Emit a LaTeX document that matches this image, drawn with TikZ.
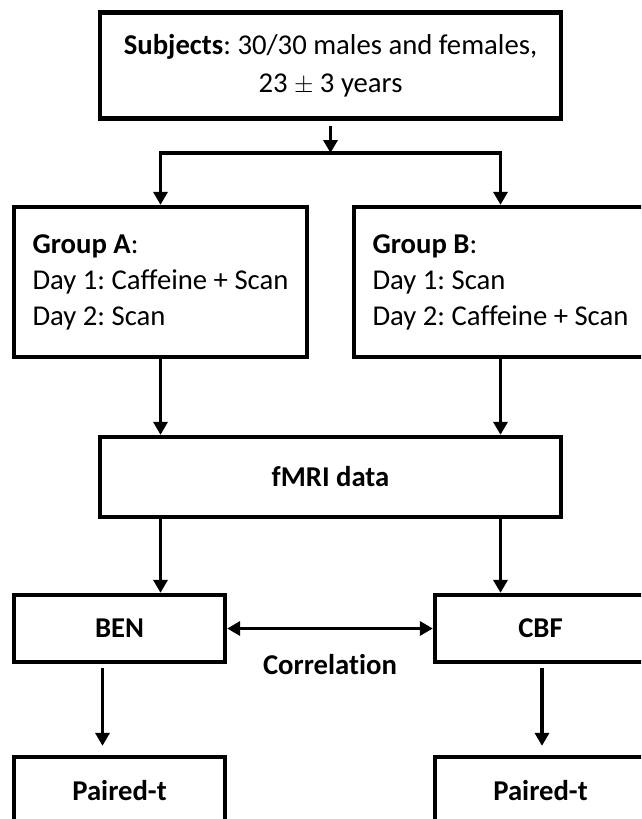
\documentclass[tikz,border=0pt]{standalone}
\usepackage{fontspec}
\setmainfont{Carlito}[Ligatures=NoCommon]
\frenchspacing
\usetikzlibrary{arrows.meta,positioning}
\tikzset{
  box/.style        = {draw, line width=4.3pt, inner sep=0pt, font=\fontsize{28.7}{36}\selectfont},
  groupbox/.style   = {box, minimum width=293pt, minimum height=150pt, align=left},
  widebox/.style    = {box, minimum width=461pt},
  smallbox/.style   = {box, minimum width=211pt, minimum height=67pt, font=\fontsize{28.7}{37}\selectfont\bfseries},
  wire/.style       = {line width=3.8pt, -{Triangle[width=14pt,length=13pt]}},
  dwire/.style      = {line width=3.8pt, {Triangle[width=14pt,length=13pt]}-{Triangle[width=14pt,length=13pt]}},
  labelstyle/.style = {inner sep=0pt, font=\fontsize{28.7}{37}\selectfont\bfseries}
}

\begin{document}
\begin{tikzpicture}[x=1pt, y=-1pt]
    \path[use as bounding box] (0,0) rectangle (641,819);
    \clip (0,0) rectangle (641,819);
    % Boxes
    \node[widebox, minimum height=106pt, align=center] (subj) at (330.5,65.5)
      {\textbf{Subjects}: 30/30 males and females,\\[2pt] 23 $\pm$ 3 years};
    \node[groupbox] (grpA) at (160.5,282) {\textbf{Group A}:\\ Day 1: Caffeine + Scan\\ Day 2: Scan};
    \node[groupbox] (grpB) at (500.5,282) {\textbf{Group B}:\\ Day 1: Scan\\ Day 2: Caffeine + Scan};
    \node[widebox, minimum height=80pt, font=\fontsize{28.7}{37}\selectfont\bfseries] (fmri) at (330.5,477) {fMRI data};
    \node[smallbox] (ben) at (119.5,628.5) {BEN};
    \node[smallbox] (cbf) at (540.5,628.5) {CBF};
    \node[smallbox] (ptA) at (119.5,790.5) {Paired-t};
    \node[smallbox] (ptB) at (540.5,790.5) {Paired-t};
    % Split point under the subjects box
    \coordinate (hub) at (330.5,153);
    % Wires
    \draw[wire, shorten <=5pt] (subj) -- (hub);
    \draw[wire] (hub) -| (grpA);
    \draw[wire] (hub) -| (grpB);
    \draw[wire] (grpA) -- (grpA |- fmri.north);
    \draw[wire] (grpB) -- (grpB |- fmri.north);
    \draw[wire] (fmri.south -| grpA) -- (ben.north -| grpA);
    \draw[wire] (fmri.south -| grpB) -- (cbf.north -| grpB);
    \draw[dwire] (ben) -- node[below=24pt, labelstyle] (corr) {Correlation} (cbf);
    \draw[wire, shorten <=4pt, shorten >=9pt] ([xshift=-17pt]ben.south) -- ([xshift=-17pt]ptA.north);
    \draw[wire, shorten <=4pt, shorten >=9pt] ([xshift=1.5pt]cbf.south) -- ([xshift=1.5pt]ptB.north);
  \end{tikzpicture}
\end{document}
